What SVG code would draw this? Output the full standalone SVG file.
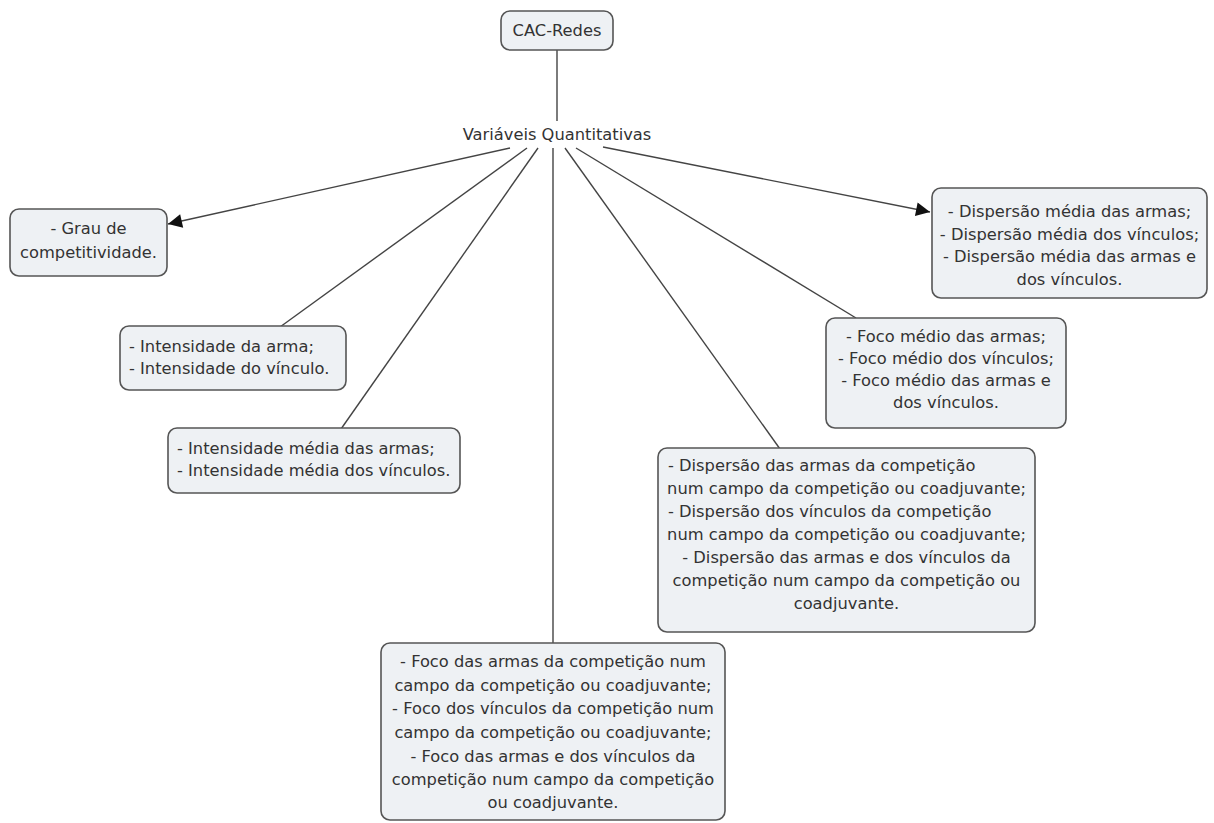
<svg xmlns="http://www.w3.org/2000/svg" width="1214" height="823" viewBox="0 0 1214 823">
<style>
.box{fill:#eef1f4;stroke:#555;stroke-width:1.6}
.t{font-family:"DejaVu Sans",Verdana,sans-serif;font-size:16.3px;fill:#333;text-anchor:middle}
.l{text-anchor:start}
.c{stroke:#444;stroke-width:1.4;fill:none}
</style>
<defs>
<marker id="ah" viewBox="0 0 10 10" refX="10" refY="5" markerWidth="15" markerHeight="14" markerUnits="userSpaceOnUse" orient="auto">
<path d="M0,0 L10,5 L0,10 z" fill="#111"/>
</marker>
</defs>
<rect width="1214" height="823" fill="#fff"/>
<g id="connectors">
<line class="c" x1="557" y1="50" x2="557" y2="121"/>
<line class="c" x1="510" y1="148" x2="168" y2="224" marker-end="url(#ah)"/>
<line class="c" x1="527" y1="148" x2="280" y2="327"/>
<line class="c" x1="538" y1="148" x2="341" y2="429"/>
<line class="c" x1="553" y1="148" x2="553" y2="643"/>
<line class="c" x1="565" y1="148" x2="780" y2="449"/>
<line class="c" x1="576" y1="148" x2="856" y2="318"/>
<line class="c" x1="603" y1="147" x2="930" y2="212" marker-end="url(#ah)"/>
</g>
<g id="cac-redes">
<rect class="box" x="501" y="11" width="112" height="39" rx="9"/>
<text class="t" x="557" y="36">CAC-Redes</text>
</g>
<g id="variaveis">
<text class="t" x="557" y="140">Variáveis Quantitativas</text>
</g>
<g id="grau">
<rect class="box" x="10" y="209" width="157" height="67" rx="9"/>
<text class="t" x="88.5" y="234">- Grau de</text>
<text class="t" x="88.5" y="258">competitividade.</text>
</g>
<g id="intensidade">
<rect class="box" x="120" y="326" width="226" height="64" rx="9"/>
<text class="t l" x="129" y="352">- Intensidade da arma;</text>
<text class="t l" x="129" y="374">- Intensidade do vínculo.</text>
</g>
<g id="intensidade-media">
<rect class="box" x="168" y="428" width="292" height="65" rx="9"/>
<text class="t l" x="177" y="454">- Intensidade média das armas;</text>
<text class="t l" x="177" y="476">- Intensidade média dos vínculos.</text>
</g>
<g id="dispersao-media">
<rect class="box" x="932" y="188" width="275" height="110" rx="9"/>
<text class="t" x="1069.5" y="217">- Dispersão média das armas;</text>
<text class="t" x="1069.5" y="240">- Dispersão média dos vínculos;</text>
<text class="t" x="1069.5" y="262">- Dispersão média das armas e</text>
<text class="t" x="1069.5" y="285">dos vínculos.</text>
</g>
<g id="foco-medio">
<rect class="box" x="826" y="318" width="240" height="110" rx="9"/>
<text class="t" x="946" y="342">- Foco médio das armas;</text>
<text class="t" x="946" y="364">- Foco médio dos vínculos;</text>
<text class="t" x="946" y="386">- Foco médio das armas e</text>
<text class="t" x="946" y="408">dos vínculos.</text>
</g>
<g id="dispersao">
<rect class="box" x="658" y="448" width="377" height="184" rx="9"/>
<text class="t l" x="668" y="471">- Dispersão das armas da competição</text>
<text class="t" x="846.5" y="494">num campo da competição ou coadjuvante;</text>
<text class="t l" x="668" y="517">- Dispersão dos vínculos da competição</text>
<text class="t" x="846.5" y="540">num campo da competição ou coadjuvante;</text>
<text class="t" x="846.5" y="563">- Dispersão das armas e dos vínculos da</text>
<text class="t" x="846.5" y="586">competição num campo da competição ou</text>
<text class="t" x="846.5" y="609">coadjuvante.</text>
</g>
<g id="foco">
<rect class="box" x="381" y="643" width="344" height="177" rx="9"/>
<text class="t" x="553" y="667">- Foco das armas da competição num</text>
<text class="t" x="553" y="691">campo da competição ou coadjuvante;</text>
<text class="t" x="553" y="714">- Foco dos vínculos da competição num</text>
<text class="t" x="553" y="738">campo da competição ou coadjuvante;</text>
<text class="t" x="553" y="762">- Foco das armas e dos vínculos da</text>
<text class="t" x="553" y="785">competição num campo da competição</text>
<text class="t" x="553" y="808">ou coadjuvante.</text>
</g>
</svg>
